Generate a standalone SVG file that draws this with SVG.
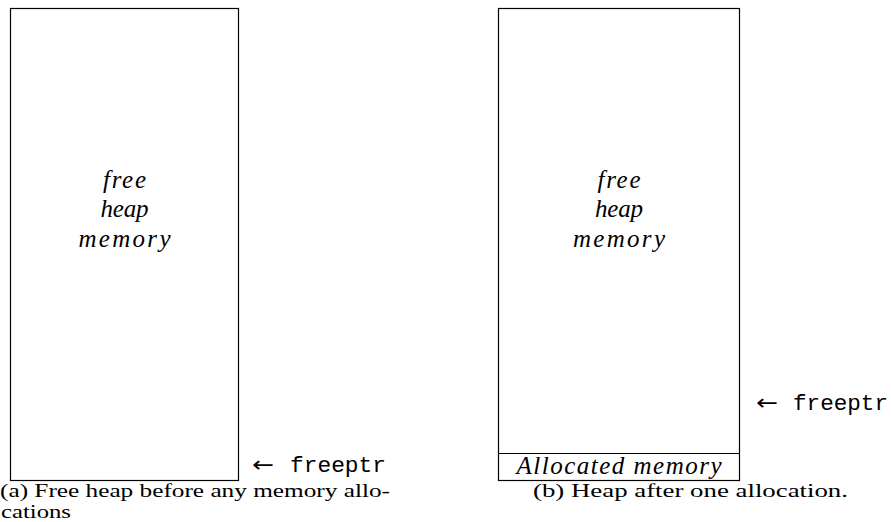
<svg xmlns="http://www.w3.org/2000/svg" width="891" height="522" viewBox="0 0 891 522">
<style>
.box{fill:#fff;stroke:#000;stroke-width:1.2}
.ln{stroke:#000;stroke-width:1.2}
.it{font-family:"Liberation Serif","DejaVu Serif",serif;font-style:italic;font-size:25px;fill:#000;text-anchor:middle}
.rm{font-family:"Liberation Serif","DejaVu Serif",serif;font-size:18px;fill:#000}
.tt{font-family:"Liberation Mono","DejaVu Sans Mono",monospace;font-size:22px;fill:#000}
.ar{font-family:"DejaVu Sans","Liberation Serif",sans-serif;font-size:22px;fill:#000}
</style>
<g id="heap-a">
<rect class="box" x="10.5" y="8.5" width="228" height="472"/>
<text class="it" x="124.5" y="188" textLength="43">free</text>
<text class="it" x="124.5" y="217" textLength="48">heap</text>
<text class="it" x="124.5" y="247" textLength="92">memory</text>
</g>
<g id="freeptr-a">
<text class="ar" x="252" y="472" textLength="22" lengthAdjust="spacingAndGlyphs">←</text>
<text class="tt" x="290" y="472" textLength="96" lengthAdjust="spacingAndGlyphs">freeptr</text>
</g>
<g id="heap-b">
<rect class="box" x="498.5" y="8.5" width="241" height="472"/>
<text class="it" x="619" y="188" textLength="43">free</text>
<text class="it" x="619" y="217" textLength="48">heap</text>
<text class="it" x="619" y="247" textLength="92">memory</text>
</g>
<g id="allocated-b">
<line class="ln" x1="498.5" y1="453.5" x2="739.5" y2="453.5"/>
<text class="it" x="619" y="474" textLength="205">Allocated memory</text>
</g>
<g id="freeptr-b">
<text class="ar" x="756" y="410" textLength="22" lengthAdjust="spacingAndGlyphs">←</text>
<text class="tt" x="793" y="410" textLength="95" lengthAdjust="spacingAndGlyphs">freeptr</text>
</g>
<g id="connectors"></g>
<g id="captions">
<text class="rm" x="0" y="497" textLength="390" lengthAdjust="spacingAndGlyphs">(a) Free heap before any memory allo-</text>
<text class="rm" x="1" y="518" textLength="70" lengthAdjust="spacingAndGlyphs">cations</text>
<text class="rm" x="533" y="497" textLength="315" lengthAdjust="spacingAndGlyphs">(b) Heap after one allocation.</text>
</g>
</svg>
